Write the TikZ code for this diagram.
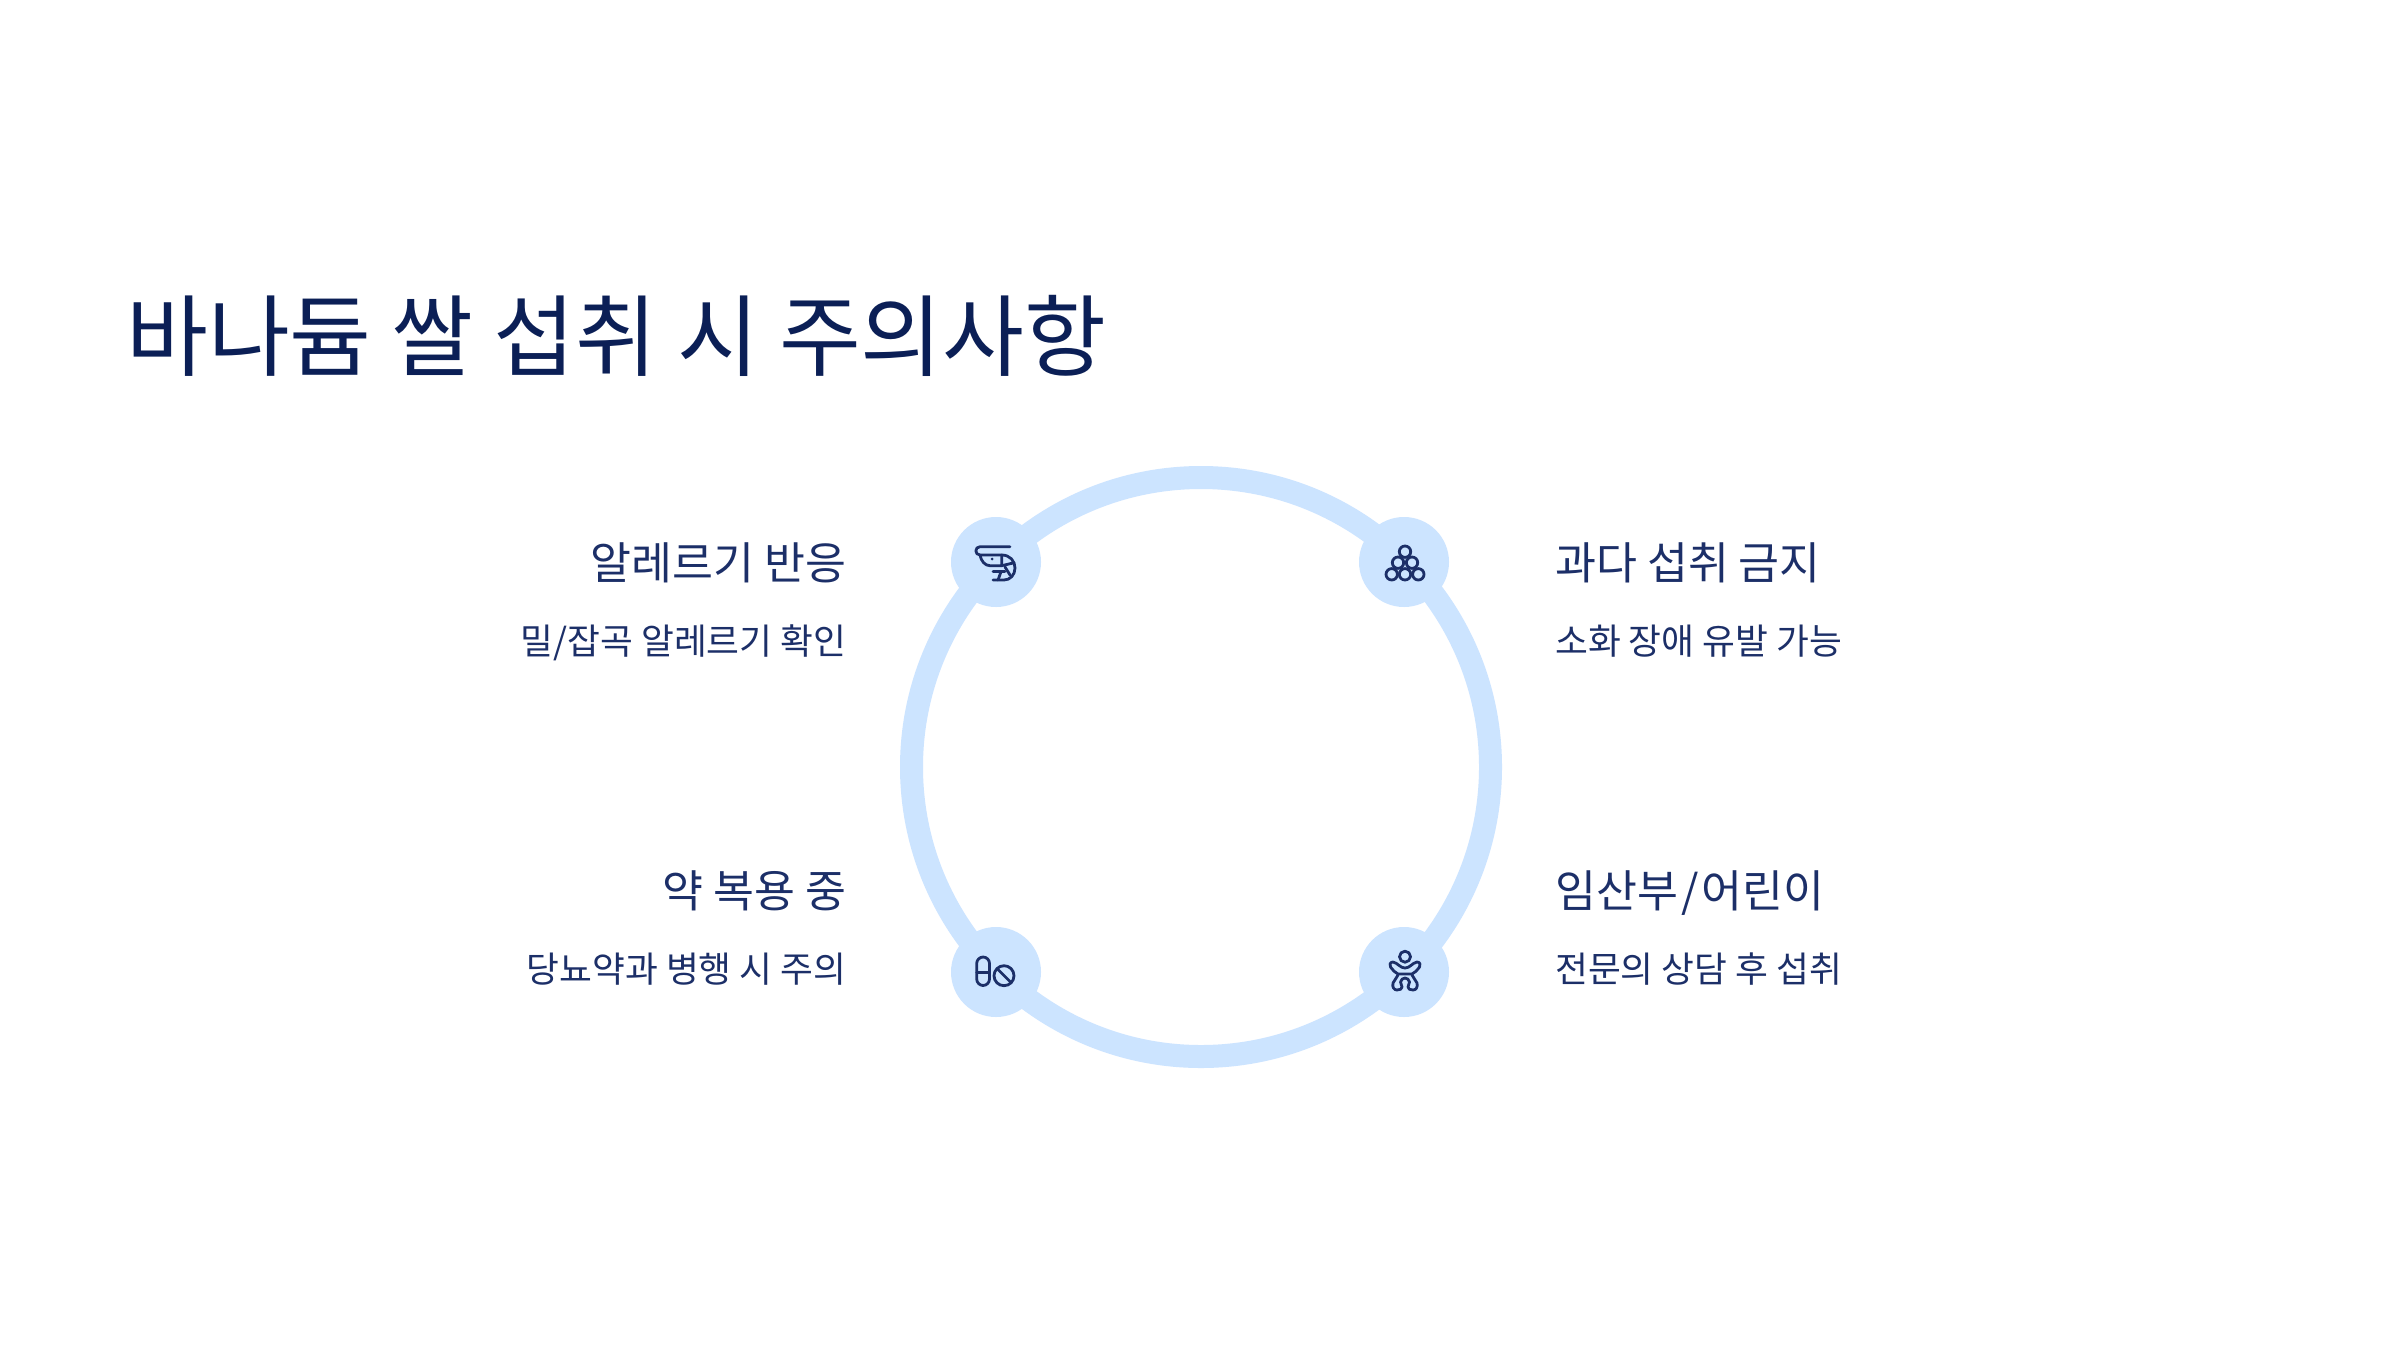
\documentclass[tikz,border=0pt]{standalone}
\usepackage{fontspec}
\setmainfont{Noto Sans CJK KR}
\definecolor{navy}{HTML}{0B1F56}
\definecolor{inkblue}{HTML}{1C2F68}
\definecolor{paleblue}{HTML}{CCE4FF}
\begin{document}
\begin{tikzpicture}[x=1pt,y=-1pt,
  disc/.style={circle,fill=paleblue,minimum size=90pt,inner sep=0pt},
  ttl/.style={text=navy,font=\fontsize{89}{100}\selectfont,anchor=base west,inner sep=0pt},
  headR/.style={text=inkblue,font=\fontsize{44.5}{52}\selectfont,anchor=base west,inner sep=0pt},
  headL/.style={text=inkblue,font=\fontsize{44.5}{52}\selectfont,anchor=base east,inner sep=0pt},
  subR/.style={text=inkblue,font=\fontsize{35.7}{42}\selectfont,anchor=base west,inner sep=0pt},
  subL/.style={text=inkblue,font=\fontsize{35.7}{42}\selectfont,anchor=base east,inner sep=0pt},
  ico/.style={draw=inkblue,line width=2.8pt,line cap=round,line join=round}]
\useasboundingbox (0,0) rectangle (2400,1350);
\fill[white] (0,0) rectangle (2400,1350);
\coordinate (c) at (1201,767);
\draw[paleblue,line width=23pt] (c) circle (289.5pt);
\node[disc] (a) at (996,562) {};
\node[disc] (b) at (1404,562) {};
\node[disc] (d) at (996,972) {};
\node[disc] (e) at (1404,972) {};
\node[ttl] (t) at (126,369.5) {바나듐 쌀 섭취 시 주의사항};
\node[headL] (h1) at (846.5,579.5) {알레르기 반응};
\node[subL] (s1) at (846.5,654.5) {밀/잡곡 알레르기 확인};
\node[headR] (h2) at (1555,579.5) {과다 섭취 금지};
\node[subR] (s2) at (1555,654.5) {소화 장애 유발 가능};
\node[headL] (h3) at (846.5,907.5) {약 복용 중};
\node[subL] (s3) at (846.5,982.5) {당뇨약과 병행 시 주의};
\node[headR] (h4) at (1555,907.5) {임산부\kern3pt/\kern3pt 어린이};
\node[subR] (s4) at (1555,982.5) {전문의 상담 후 섭취};
% shrimp
\draw[ico] (1010,546.7) -- (980,546.7) .. controls (974.5,546.7) and (974.5,555) .. (980,555) -- (1001.7,555) .. controls (1010,555) and (1015,561) .. (1015,568) .. controls (1015,575) and (1010,580) .. (1004,580) -- (993,580);
\draw[ico] (980,555) .. controls (981,561) and (985,565.7) .. (990,565.7) -- (1001.7,565.7) -- (1001.7,555);
\draw[ico] (1001.7,565.7) -- (1013,563);
\draw[ico] (1005,567) -- (1010,575);
\draw[ico] (993,571.7) -- (1005,571.7);
\draw[ico] (998,580) -- (1001,571.7);
\fill[inkblue] (992,559) circle (1.5);
% balls
\foreach \p in {(1405,551.7),(1398,562.7),(1412,562.7),(1391.7,574.3),(1405,574.3),(1418.3,574.3)}
  \draw[ico] \p circle (5.7);
% pill
\draw[ico,rounded corners=6.5pt] (976.7,957) rectangle (989.5,985.5);
\draw[ico] (976.7,972.3) -- (989.5,972.3);
\draw[ico] (1004,975.7) circle (10);
\draw[ico] (997,968.5) -- (1011,982.5);
% baby
\draw[ico] (1405,956.7) circle (5.5);
\draw[ico] (1393,962) .. controls (1398,963) and (1400,968) .. (1405,968) .. controls (1410,968) and (1412,963) .. (1417,962) .. controls (1420,962) and (1421,965) .. (1419.5,967) .. controls (1417,970) and (1415,973) .. (1412,974) -- (1398,974) .. controls (1395,973) and (1393,970) .. (1390.5,967) .. controls (1389,965) and (1390,962) .. (1393,962);
\draw[ico] (1398,975) -- (1393,983) .. controls (1392,987) and (1394,990) .. (1397,990) .. controls (1400,990) and (1402,989) .. (1402,987) -- (1400.5,982) .. controls (1401,979.5) and (1403,978) .. (1405,978) .. controls (1407,978) and (1409,979.5) .. (1409.5,982) -- (1408,987) .. controls (1408,989) and (1410,990) .. (1413,990) .. controls (1416,990) and (1418,987) .. (1417,983) -- (1412,975);
\end{tikzpicture}
\end{document}
